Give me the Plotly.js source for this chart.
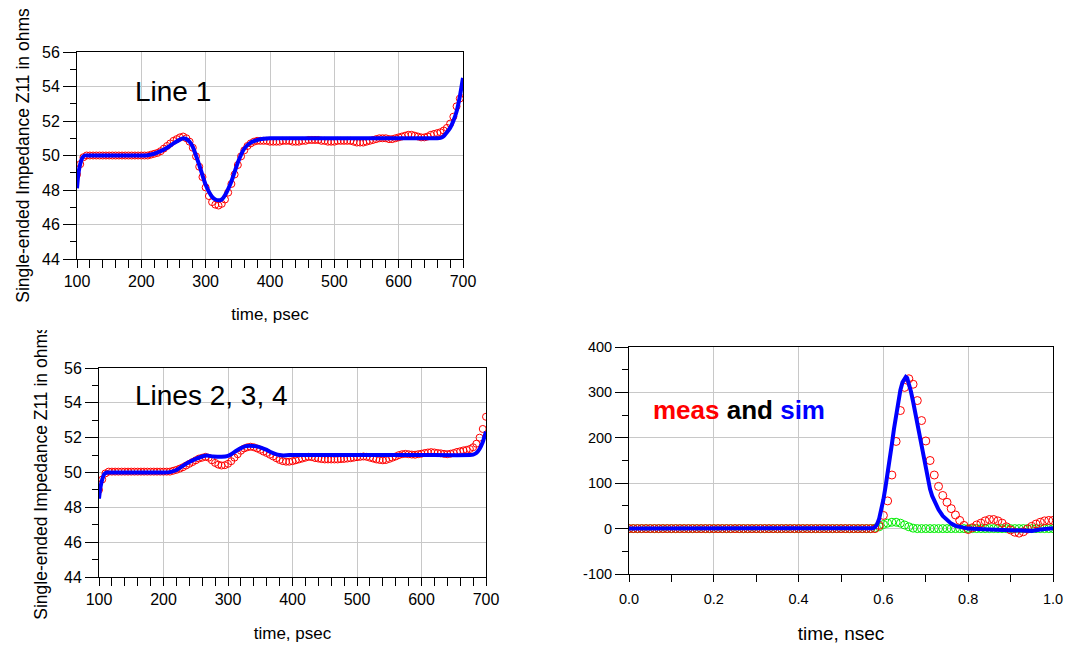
<!DOCTYPE html>
<html>
<head>
<meta charset="utf-8">
<script src="https://cdn.plot.ly/plotly-3.0.1.min.js"></script>
<style>
  html, body { margin: 0; padding: 0; background: #ffffff; }
  body { width: 1068px; height: 645px; position: relative; overflow: hidden; }
  .panel { position: absolute; overflow: hidden; }
</style>
</head>
<body>
<div id="p1" class="panel" style="left:0px; top:0px; width:534px; height:330px;"></div>
<div id="p2" class="panel" style="left:0px; top:330px; width:534px; height:315px;"></div>
<div id="p3" class="panel" style="left:534px; top:330px; width:534px; height:315px;"></div>
<script>
// ---------- data: time axis in psec (measured samples) ----------
const timePs = [
  100,105,110,115,120,125,130,135,140,145,150,155,160,165,170,175,180,185,190,195,
  200,205,210,215,220,225,230,235,240,245,250,255,260,265,270,275,280,285,290,295,
  300,305,310,315,320,325,330,335,340,345,350,355,360,365,370,375,380,385,390,395,
  400,405,410,415,420,425,430,435,440,445,450,455,460,465,470,475,480,485,490,495,
  500,505,510,515,520,525,530,535,540,545,550,555,560,565,570,575,580,585,590,595,
  600,605,610,615,620,625,630,635,640,645,650,655,660,665,670,675,680,685,690,695,
  700
];

// Line 1: measured Z11 (ohms)
const line1Meas = [
  48.9,49.5,49.9,50.0,50.0,50.0,50.0,50.0,50.0,50.0,50.0,50.0,50.0,50.0,50.0,50.0,50.0,50.0,50.0,50.0,
  50.0,50.0,50.0,50.05,50.1,50.15,50.25,50.4,50.55,50.7,50.85,50.95,51.05,51.1,51.0,50.8,50.45,49.95,49.35,48.75,
  48.15,47.65,47.3,47.15,47.1,47.2,47.45,47.85,48.35,48.9,49.45,49.95,50.3,50.55,50.7,50.8,50.85,50.85,50.85,50.85,
  50.8,50.8,50.8,50.8,50.85,50.85,50.85,50.8,50.8,50.8,50.85,50.85,50.9,50.9,50.9,50.9,50.85,50.85,50.8,50.8,
  50.8,50.85,50.85,50.85,50.85,50.85,50.8,50.75,50.75,50.75,50.8,50.85,50.9,50.95,51.0,51.0,51.0,50.95,50.95,51.0,
  51.05,51.1,51.15,51.2,51.2,51.15,51.1,51.05,51.05,51.1,51.2,51.25,51.3,51.35,51.45,51.6,51.85,52.25,52.85,53.3,
  53.7
];

// Line 1: simulated Z11 (ohms)
const line1SimTime = [100,102,105,108,112,120,200,210,220,230,240,250,260,265,270,275,280,290,300,310,315,320,325,330,340,350,360,370,380,390,400,500,600,660,665,670,675,680,685,690,695,700];
const line1Sim =     [48.1,48.9,49.5,49.85,50.0,50.0,50.0,50.02,50.1,50.25,50.45,50.7,50.92,51.0,50.95,50.8,50.5,49.45,48.3,47.6,47.45,47.4,47.45,47.7,48.5,49.6,50.4,50.75,50.9,50.97,51.0,51.0,51.0,51.0,51.02,51.12,51.35,51.6,52.0,52.55,53.4,54.5];

// Lines 2, 3, 4: measured Z11 (ohms)
const lines234Meas = [
  49.0,49.6,49.95,50.05,50.05,50.05,50.05,50.05,50.05,50.05,50.05,50.05,50.05,50.05,50.05,50.05,50.05,50.05,50.05,50.05,
  50.05,50.05,50.05,50.1,50.15,50.22,50.3,50.4,50.5,50.6,50.7,50.8,50.85,50.9,50.85,50.7,50.55,50.45,50.4,50.42,
  50.5,50.65,50.85,51.05,51.25,51.38,51.45,51.48,51.45,51.38,51.3,51.2,51.12,51.02,50.92,50.82,50.72,50.65,50.62,50.62,
  50.65,50.7,50.75,50.8,50.85,50.9,50.88,50.83,50.8,50.77,50.75,50.75,50.75,50.75,50.75,50.77,50.78,50.8,50.82,50.85,
  50.88,50.9,50.92,50.9,50.85,50.8,50.75,50.72,50.7,50.72,50.78,50.85,50.92,51.0,51.05,51.07,51.05,51.03,51.02,51.05,
  51.08,51.12,51.15,51.17,51.15,51.12,51.1,51.07,51.05,51.08,51.12,51.18,51.22,51.27,51.3,51.35,51.45,51.65,52.0,52.5,
  53.2
];

// Lines 2, 3, 4: simulated Z11 (ohms)
const lines234SimTime = [100,102,105,108,112,120,200,210,220,235,250,260,267,277,290,300,305,313,320,326,334,344,352,360,366,373,380,386,395,500,600,675,680,685,690,695,700];
const lines234Sim =     [48.5,49.1,49.6,49.9,50.0,50.0,50.0,50.02,50.14,50.5,50.78,50.92,50.97,50.92,50.9,50.95,51.05,51.25,51.4,51.5,51.53,51.5,51.42,51.3,51.18,51.07,51.0,50.98,51.0,51.0,51.0,51.0,51.03,51.12,51.35,51.75,52.35];

// ---------- data: time axis in nsec ----------
const timeNs = [
  0.00,0.01,0.02,0.03,0.04,0.05,0.06,0.07,0.08,0.09,0.10,0.11,0.12,0.13,0.14,0.15,0.16,0.17,0.18,0.19,
  0.20,0.21,0.22,0.23,0.24,0.25,0.26,0.27,0.28,0.29,0.30,0.31,0.32,0.33,0.34,0.35,0.36,0.37,0.38,0.39,
  0.40,0.41,0.42,0.43,0.44,0.45,0.46,0.47,0.48,0.49,0.50,0.51,0.52,0.53,0.54,0.55,0.56,0.57,0.58,0.59,
  0.60,0.61,0.62,0.63,0.64,0.65,0.66,0.67,0.68,0.69,0.70,0.71,0.72,0.73,0.74,0.75,0.76,0.77,0.78,0.79,
  0.80,0.81,0.82,0.83,0.84,0.85,0.86,0.87,0.88,0.89,0.90,0.91,0.92,0.93,0.94,0.95,0.96,0.97,0.98,0.99,
  1.00
];
const measNs = [
  0,0,0,0,0,0,0,0,0,0,0,0,0,0,0,0,0,0,0,0,
  0,0,0,0,0,0,0,0,0,0,0,0,0,0,0,0,0,0,0,0,
  0,0,0,0,0,0,0,0,0,0,0,0,0,0,0,0,0,0,0,7,
  29,61,118,192,260,311,330,318,282,238,193,150,118,93,73,58,44,30,18,7,
  -2,2,8,12,17,20,20,17,12,4,-3,-8,-10,-7,-1,5,10,14,17,18,
  18
];
const greenNs = [
  0,0,0,0,0,0,0,0,0,0,0,0,0,0,0,0,0,0,0,0,
  0,0,0,0,0,0,0,0,0,0,0,0,0,0,0,0,0,0,0,0,
  0,0,0,0,0,0,0,0,0,0,0,0,0,0,0,0,0,0,1,4,
  9,12,14,14,12,8,4,1,0,0,0,0,0,0,0,0,0,0,0,0,
  0,0,0,0,0,0,0,0,0,0,0,0,0,0,0,0,0,0,0,0,
  0
];
const simTimeNs = [0,0.5,0.57,0.575,0.58,0.585,0.59,0.595,0.6,0.605,0.61,0.615,0.62,0.625,0.63,0.635,0.64,0.645,0.65,0.653,0.656,0.66,0.665,0.67,0.675,0.68,0.685,0.69,0.695,0.7,0.705,0.71,0.715,0.72,0.725,0.73,0.74,0.75,0.76,0.77,0.78,0.79,0.8,0.85,0.9,0.93,0.95,0.97,1.0];
const simNs =     [0,0,0,1,3,9,22,40,64,92,120,152,186,220,252,282,305,322,332,334,332,320,302,280,256,230,203,176,150,126,105,87,72,60,50,42,28,19,11,6,4,2,0,-2,-4,-5,-5,-2,1];

const psTicks = [100,200,300,400,500,600,700];
const ohmTicks = [44,46,48,50,52,54,56];
const nsTicks = [0.0,0.2,0.4,0.6,0.8,1.0];
const nsTickText = ['0.0','0.2','0.4','0.6','0.8','1.0'];
const zTicks = [-100,0,100,200,300,400];

// ---------- styling ----------
const FONT = 'Liberation Sans, Arial, sans-serif';
const GRID = '#c8c8c8';
const cfg = {staticPlot: true, displayModeBar: false};

function leftXAxis(titleStandoff) {
  return {
    range: [100, 700], tickvals: psTicks, ticktext: psTicks.map(String),
    showgrid: true, gridcolor: GRID, gridwidth: 1, zeroline: false,
    showline: true, linecolor: '#000', linewidth: 1, mirror: true,
    ticks: 'outside', ticklen: 8, tickcolor: '#000',
    minor: {dtick: 20, tick0: 100, ticks: 'outside', ticklen: 8, tickcolor: '#000', showgrid: false},
    tickfont: {family: FONT, size: 16, color: '#000'},
    title: {text: 'time, psec', font: {family: FONT, size: 17, color: '#000'}, standoff: titleStandoff}
  };
}
function leftYAxis(titleStandoff) {
  return {
    range: [44, 56], tickvals: ohmTicks, ticktext: ohmTicks.map(String),
    showgrid: true, gridcolor: GRID, gridwidth: 1, zeroline: false,
    showline: true, linecolor: '#000', linewidth: 1, mirror: true,
    ticks: 'outside', ticklen: 13, tickcolor: '#000',
    minor: {dtick: 1, tick0: 44, ticks: 'outside', ticklen: 6, tickcolor: '#000', showgrid: false},
    tickfont: {family: FONT, size: 16, color: '#000'},
    title: {text: 'Single-ended Impedance Z11 in ohms', font: {family: FONT, size: 17.5, color: '#000'}, standoff: titleStandoff}
  };
}
function measTrace(x, y, size) {
  return {x: x, y: y, type: 'scatter', mode: 'markers',
    marker: {symbol: 'circle-open', size: size, color: '#ff0000', line: {width: 1, color: '#ff0000'}},
    hoverinfo: 'skip', showlegend: false};
}
function simTrace(x, y, spline) {
  return {x: x, y: y, type: 'scatter', mode: 'lines',
    line: {color: '#0000ff', width: 4, shape: spline ? 'spline' : 'linear', smoothing: 0.5},
    hoverinfo: 'skip', showlegend: false};
}

// Panel 1: Line 1
Plotly.newPlot('p1', [
  measTrace(timePs, line1Meas, 7),
  simTrace(line1SimTime, line1Sim, true)
], {
  width: 534, height: 330,
  margin: {l: 77, r: 71, t: 52, b: 71},
  paper_bgcolor: '#fff', plot_bgcolor: '#fff',
  font: {family: FONT, color: '#000'},
  xaxis: leftXAxis(18), yaxis: leftYAxis(7),
  annotations: [{xref: 'paper', yref: 'paper', x: 0.145, y: 0.807, xanchor: 'left', yanchor: 'middle',
    text: 'Line 1', showarrow: false, font: {family: FONT, size: 28, color: '#000'}}]
}, cfg);

// Panel 2: Lines 2, 3, 4
Plotly.newPlot('p2', [
  measTrace(timePs, lines234Meas, 7),
  simTrace(lines234SimTime, lines234Sim, true)
], {
  width: 534, height: 315,
  margin: {l: 99, r: 48, t: 38, b: 68},
  paper_bgcolor: '#fff', plot_bgcolor: '#fff',
  font: {family: FONT, color: '#000'},
  xaxis: leftXAxis(19), yaxis: leftYAxis(11),
  annotations: [{xref: 'paper', yref: 'paper', x: 0.087, y: 0.867, xanchor: 'left', yanchor: 'middle',
    text: 'Lines 2, 3, 4', showarrow: false, font: {family: FONT, size: 28, color: '#000'}}]
}, cfg);

// Panel 3: meas and sim (nsec)
Plotly.newPlot('p3', [
  {x: timeNs, y: greenNs, type: 'scatter', mode: 'markers',
    marker: {symbol: 'circle-open', size: 8, color: '#00ee00', line: {width: 1, color: '#00ee00'}},
    hoverinfo: 'skip', showlegend: false},
  measTrace(timeNs, measNs, 8),
  simTrace(simTimeNs, simNs, false)
], {
  width: 534, height: 315,
  margin: {l: 95, r: 15, t: 17, b: 71},
  paper_bgcolor: '#fff', plot_bgcolor: '#fff',
  font: {family: FONT, color: '#000'},
  xaxis: {
    range: [0, 1], tickvals: nsTicks, ticktext: nsTickText,
    showgrid: true, gridcolor: GRID, gridwidth: 1, zeroline: false,
    showline: true, linecolor: '#000', linewidth: 1, mirror: true,
    ticks: 'outside', ticklen: 7, tickcolor: '#000', ticklabelstandoff: 5,
    minor: {dtick: 0.1, tick0: 0, ticks: 'outside', ticklen: 7, tickcolor: '#000', showgrid: false},
    tickfont: {family: FONT, size: 14.5, color: '#000'},
    title: {text: 'time, nsec', font: {family: FONT, size: 19, color: '#000'}, standoff: 20}
  },
  yaxis: {
    range: [-100, 400], tickvals: zTicks, ticktext: zTicks.map(String),
    showgrid: true, gridcolor: GRID, gridwidth: 1, zeroline: false,
    showline: true, linecolor: '#000', linewidth: 1, mirror: true,
    ticks: 'outside', ticklen: 13, tickcolor: '#000',
    minor: {dtick: 50, tick0: 0, ticks: 'outside', ticklen: 6, tickcolor: '#000', showgrid: false},
    tickfont: {family: FONT, size: 14.5, color: '#000'}
  },
  annotations: [{xref: 'paper', yref: 'paper', x: 0.052, y: 0.724, xanchor: 'left', yanchor: 'middle',
    text: '<b><span style="color:#ff0000">meas</span> and <span style="color:#0000ff">sim</span></b>',
    showarrow: false, font: {family: FONT, size: 26, color: '#000'}}]
}, cfg);
</script>
</body>
</html>
